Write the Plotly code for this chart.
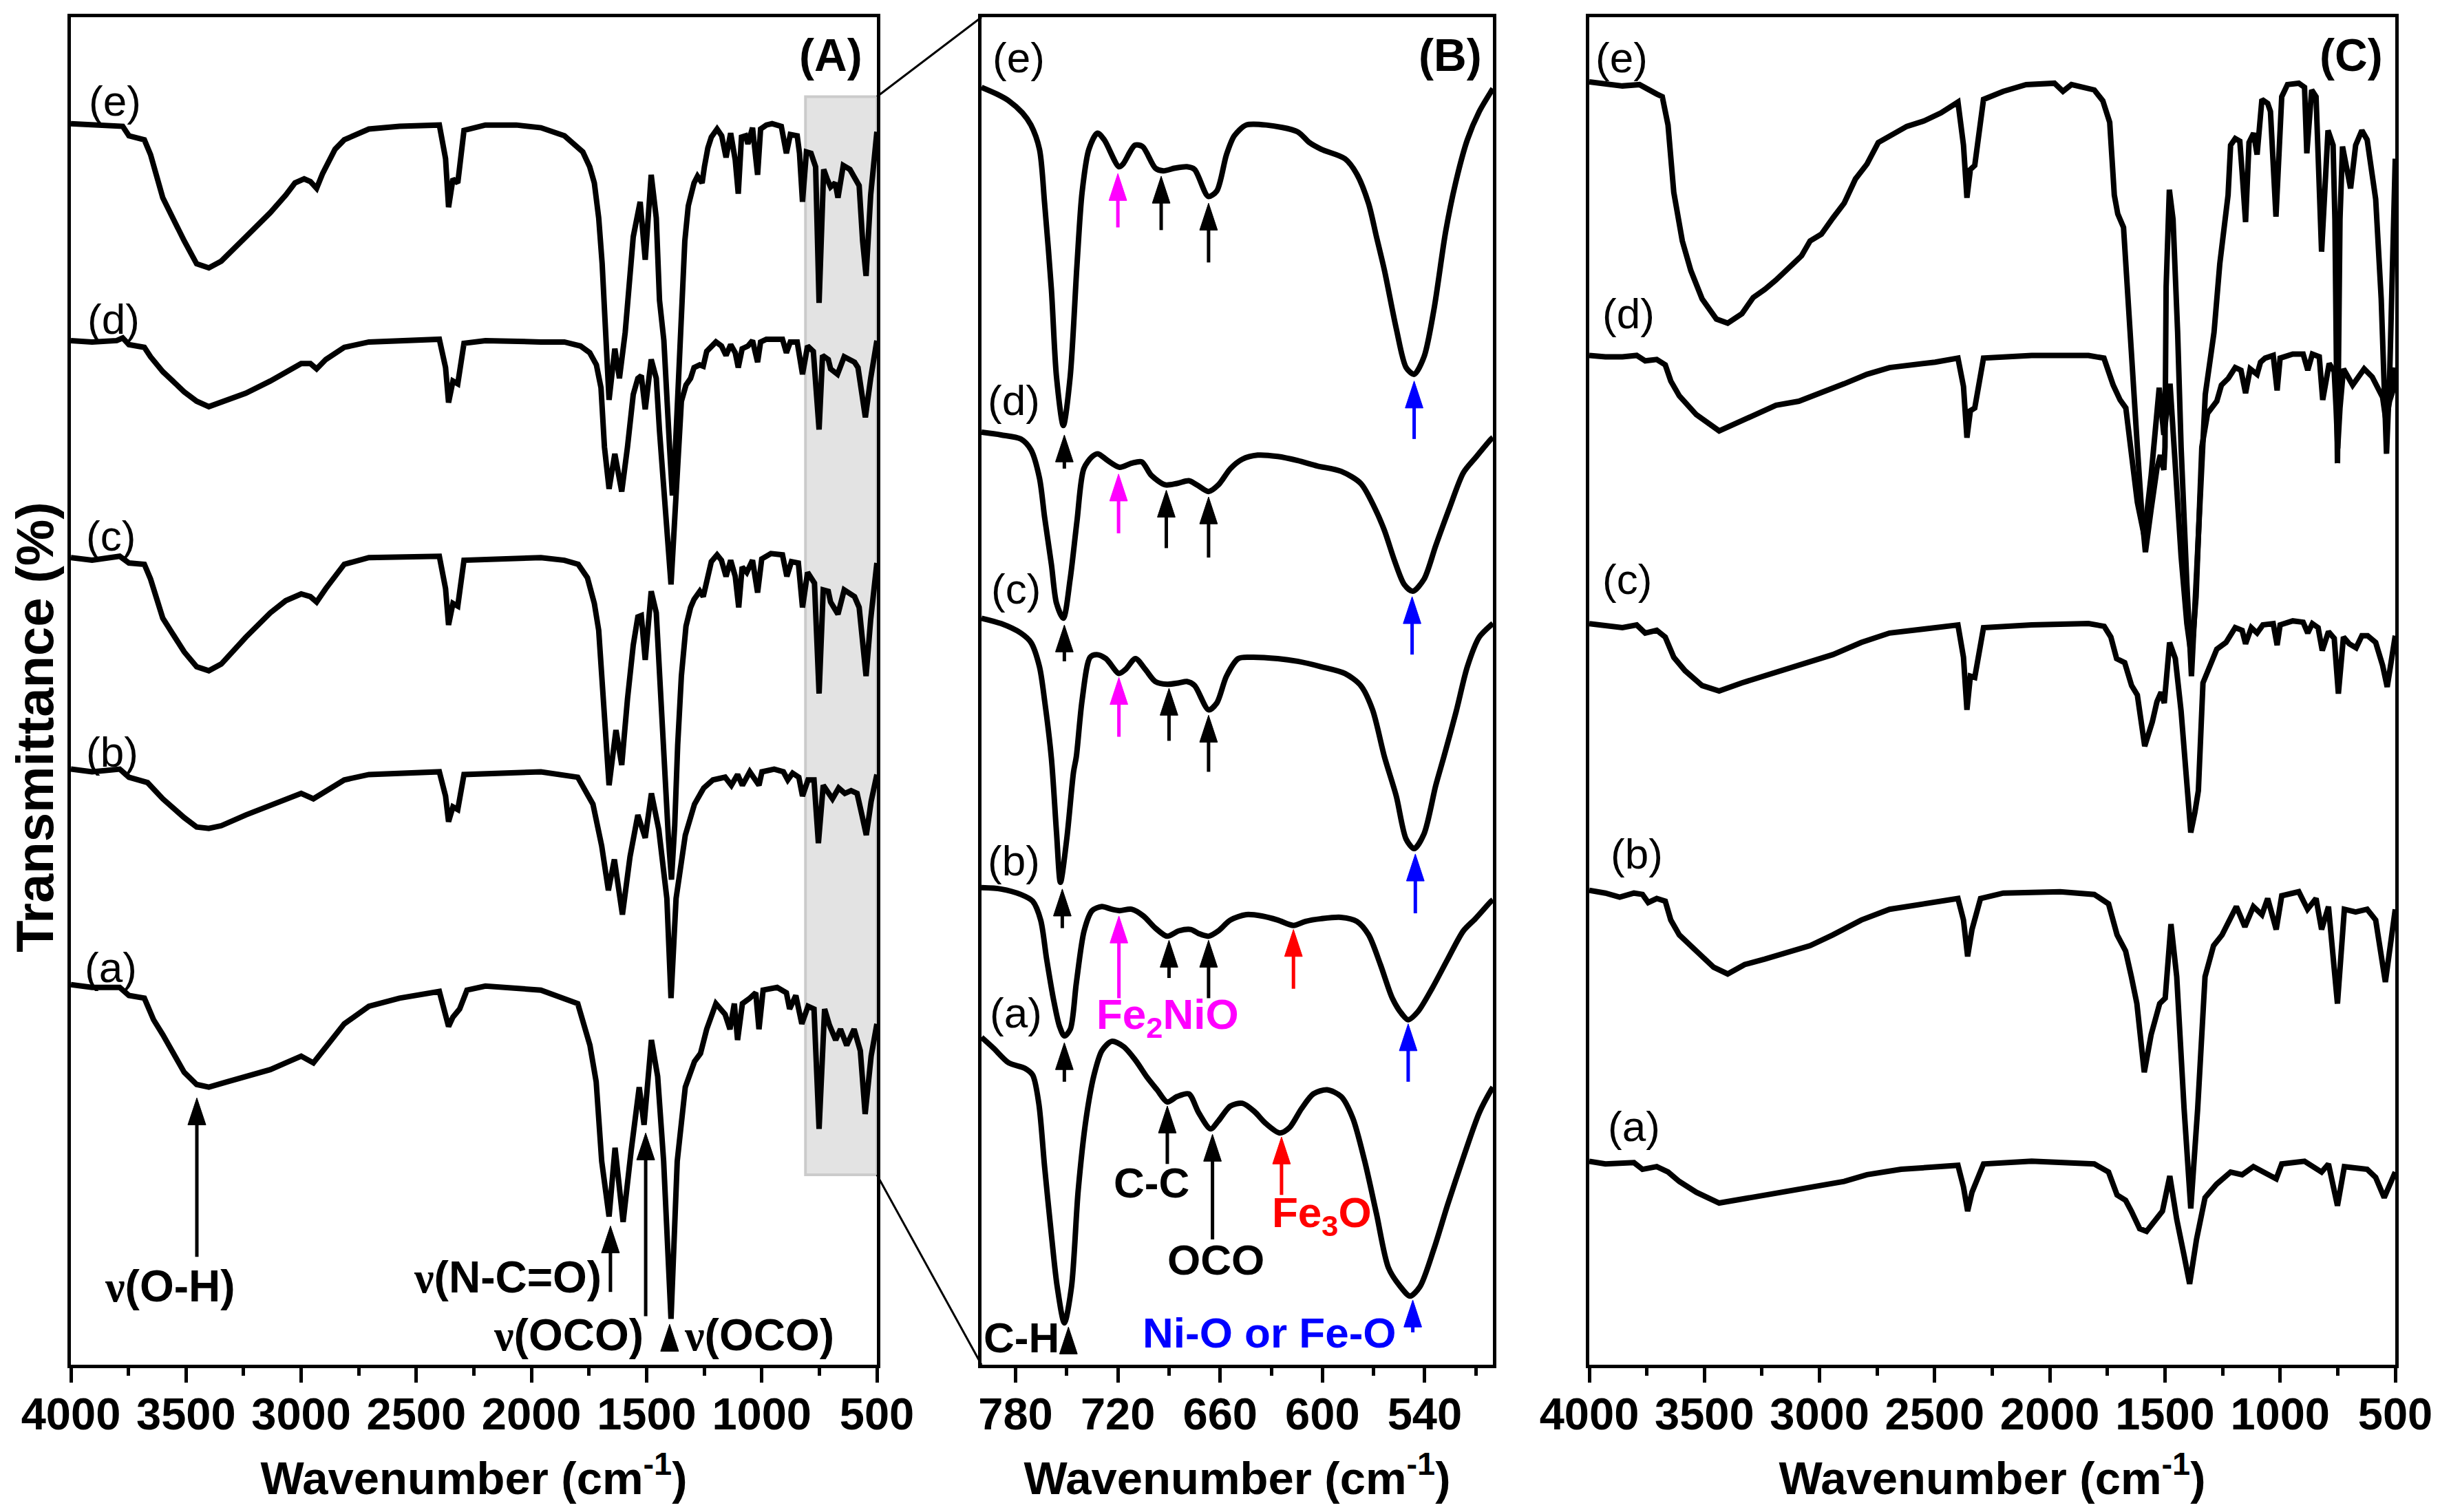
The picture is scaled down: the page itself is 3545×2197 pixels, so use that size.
import plotly.graph_objects as go

# ---- spectra, panel (A): full range, pairs of (wavenumber, transmittance a.u.) ----
A_e = [(4000, 92.1), (3775, 91.9), (3748, 91.2), (3681, 90.9), (3654, 89.8), (3601, 86.6), (3508, 83.4), (3454, 81.7),
       (3401, 81.4), (3347, 81.9), (3240, 83.7), (3134, 85.5), (3067, 86.8), (3027, 87.7), (2987, 88.0), (2960, 87.8),
       (2933, 87.3), (2907, 88.4), (2853, 90.2), (2813, 90.9), (2706, 91.7), (2573, 91.9), (2400, 92.0), (2373, 89.5),
       (2360, 85.9), (2341, 88.0), (2320, 87.7), (2293, 91.6), (2200, 92.0), (2066, 92.0), (1959, 91.8), (1857, 91.2),
       (1777, 90.0), (1747, 88.9), (1727, 87.7), (1708, 85.1), (1693, 81.7), (1678, 76.6), (1663, 71.6), (1638, 75.4),
       (1618, 73.2), (1593, 76.6), (1558, 83.7), (1528, 86.3), (1506, 82.0), (1480, 88.3), (1458, 85.1), (1444, 79.0),
       (1425, 76.0), (1400, 68.0), (1388, 64.5), (1375, 68.0), (1365, 72.0), (1349, 78.3), (1334, 83.4), (1319, 86.0),
       (1294, 87.7), (1279, 88.2), (1259, 87.7), (1249, 88.9), (1234, 90.3), (1219, 91.1), (1194, 91.7), (1174, 91.2),
       (1155, 89.6), (1135, 91.4), (1115, 89.4), (1102, 86.9), (1088, 91.1), (1070, 91.2), (1060, 90.6), (1040, 91.8),
       (1018, 88.3), (1005, 91.7), (980, 92.0), (955, 92.1), (915, 91.9), (893, 89.9), (876, 91.3), (846, 91.2),
       (836, 89.9), (823, 86.3), (806, 90.0), (786, 89.9), (766, 88.9), (751, 78.8), (731, 88.7), (716, 88.0),
       (701, 87.4), (681, 87.7), (669, 86.6), (646, 89.0), (617, 88.7), (597, 88.1), (577, 87.5), (562, 83.4),
       (547, 80.8), (527, 86.8), (507, 90.2), (500, 91.5)]
A_d = [(4000, 76.0), (3908, 75.9), (3801, 76.0), (3775, 76.2), (3748, 75.7), (3681, 75.5), (3654, 74.8), (3601, 73.7),
       (3508, 72.2), (3454, 71.5), (3401, 71.1), (3347, 71.4), (3240, 72.1), (3134, 73.0), (3067, 73.7), (3000, 74.3),
       (2960, 74.3), (2933, 73.9), (2893, 74.6), (2813, 75.5), (2706, 75.9), (2573, 76.0), (2400, 76.1), (2373, 74.0),
       (2360, 71.4), (2341, 73.0), (2320, 72.8), (2293, 75.8), (2200, 76.0), (1959, 75.9), (1857, 75.9), (1787, 75.6),
       (1747, 75.1), (1718, 74.2), (1698, 72.5), (1683, 68.1), (1663, 65.0), (1638, 67.6), (1608, 64.8), (1583, 68.1),
       (1558, 72.0), (1538, 73.2), (1523, 73.4), (1506, 70.9), (1480, 74.6), (1458, 73.2), (1444, 69.3), (1394, 57.9),
       (1359, 68.1), (1349, 71.5), (1329, 72.7), (1309, 73.2), (1294, 74.0), (1269, 74.2), (1254, 74.1), (1239, 75.2),
       (1199, 75.9), (1175, 75.6), (1155, 74.9), (1135, 75.7), (1115, 75.1), (1102, 74.0), (1085, 75.4), (1060, 75.6),
       (1040, 76.0), (1018, 74.4), (1005, 75.9), (980, 76.1), (910, 76.1), (893, 75.1), (876, 75.9), (846, 75.9),
       (823, 73.5), (801, 75.6), (776, 75.2), (751, 69.4), (736, 74.9), (711, 74.6), (701, 73.9), (671, 73.5),
       (642, 74.8), (597, 74.4), (582, 74.0), (567, 72.2), (550, 70.3), (527, 73.2), (507, 75.4), (500, 76.0)]
A_c = [(4000, 59.9), (3908, 59.7), (3788, 60.0), (3748, 59.5), (3681, 59.4), (3654, 58.3), (3601, 55.4), (3508, 52.9),
       (3454, 51.8), (3401, 51.5), (3347, 52.0), (3240, 54.0), (3134, 55.8), (3067, 56.7), (3000, 57.2), (2960, 57.0),
       (2933, 56.6), (2893, 57.6), (2813, 59.4), (2706, 59.9), (2400, 60.0), (2373, 57.6), (2360, 54.9), (2341, 56.5),
       (2320, 56.3), (2293, 59.7), (1959, 59.9), (1857, 59.7), (1797, 59.4), (1757, 58.4), (1727, 56.5), (1708, 54.5),
       (1688, 49.4), (1663, 43.0), (1633, 47.1), (1608, 44.5), (1583, 49.4), (1558, 53.4), (1538, 55.5), (1523, 55.6),
       (1506, 52.3), (1480, 57.4), (1458, 55.8), (1439, 49.4), (1420, 43.5), (1405, 39.0), (1392, 36.0), (1378, 40.0),
       (1365, 46.0), (1349, 51.1), (1329, 54.8), (1309, 56.2), (1294, 56.8), (1269, 57.4), (1254, 57.0), (1239, 58.2),
       (1219, 59.6), (1194, 60.1), (1175, 59.7), (1155, 58.5), (1135, 59.7), (1115, 58.5), (1100, 56.2), (1085, 59.2),
       (1065, 58.8), (1040, 59.7), (1018, 57.3), (1000, 59.8), (960, 60.2), (910, 60.1), (891, 58.5), (871, 59.6),
       (841, 59.5), (823, 56.2), (801, 58.8), (771, 58.0), (751, 49.8), (733, 57.5), (711, 57.4), (701, 56.6),
       (669, 55.7), (642, 57.5), (597, 57.0), (577, 56.2), (562, 53.6), (547, 51.1), (527, 55.3), (507, 58.7), (500, 59.5)]
A_b = [(4000, 44.2), (3908, 44.0), (3788, 44.2), (3748, 43.6), (3667, 43.2), (3601, 42.0), (3508, 40.6), (3454, 39.9),
       (3401, 39.8), (3347, 40.0), (3240, 40.8), (3134, 41.5), (3067, 41.9), (3000, 42.4), (2947, 42.0), (2893, 42.6),
       (2813, 43.4), (2706, 43.8), (2400, 44.0), (2373, 42.2), (2360, 40.3), (2341, 41.4), (2320, 41.2), (2293, 43.8),
       (1959, 44.0), (1799, 43.6), (1733, 41.6), (1695, 38.5), (1666, 35.2), (1640, 37.5), (1605, 33.4), (1572, 37.7),
       (1538, 40.8), (1506, 39.1), (1479, 42.4), (1447, 39.7), (1412, 34.6), (1394, 27.2), (1372, 34.6), (1332, 39.3),
       (1292, 41.6), (1252, 42.8), (1212, 43.4), (1159, 43.6), (1132, 43.0), (1105, 43.8), (1084, 43.0), (1052, 44.0),
       (1012, 43.0), (999, 44.0), (946, 44.2), (906, 44.0), (887, 43.4), (866, 43.9), (839, 43.6), (823, 42.2),
       (799, 43.4), (773, 43.4), (754, 38.7), (733, 43.0), (693, 42.0), (666, 42.8), (639, 42.4), (612, 42.6),
       (586, 42.4), (565, 40.8), (546, 39.3), (525, 41.8), (500, 43.8)]
A_a = [(4000, 28.2), (3908, 28.0), (3788, 28.0), (3748, 27.4), (3681, 27.2), (3641, 25.6), (3601, 24.5), (3508, 21.7),
       (3454, 20.8), (3401, 20.6), (3321, 21.0), (3240, 21.4), (3134, 21.9), (3067, 22.4), (3000, 22.9), (2947, 22.4),
       (2907, 23.3), (2853, 24.5), (2813, 25.3), (2706, 26.6), (2573, 27.2), (2400, 27.7), (2373, 26.0), (2360, 25.1),
       (2341, 25.8), (2312, 26.4), (2280, 27.8), (2200, 28.1), (1959, 27.8), (1799, 26.8), (1746, 23.7), (1719, 21.0),
       (1695, 15.1), (1663, 11.0), (1637, 16.1), (1602, 10.6), (1567, 15.9), (1532, 20.6), (1511, 17.8), (1479, 24.1),
       (1452, 21.4), (1426, 15.1), (1394, 3.4), (1367, 15.1), (1332, 20.6), (1292, 22.5), (1266, 23.1), (1239, 24.9),
       (1199, 26.8), (1159, 26.0), (1138, 24.9), (1119, 26.8), (1105, 24.1), (1084, 26.8), (1052, 27.2), (1026, 27.6),
       (1012, 24.9), (994, 27.8), (933, 28.0), (893, 27.6), (879, 26.4), (852, 27.4), (826, 25.3), (799, 26.6),
       (773, 26.4), (751, 17.5), (727, 26.4), (706, 25.2), (679, 24.1), (658, 24.9), (631, 23.7), (599, 24.9),
       (572, 23.3), (551, 18.6), (525, 22.9), (500, 25.3)]

# ---- panel (B): zoom 800-500 ----
B_e = [(800, 94.8), (791, 94.3), (784, 93.8), (776, 92.9), (771, 92.0), (766, 90.2), (763, 86.2), (759, 79.8),
       (756, 73.3), (752, 69.7), (748, 73.3), (744, 81.6), (741, 87.0), (737, 90.2), (732, 91.4), (728, 90.9),
       (719.4, 88.9), (717, 89.1), (710, 90.5), (705.5, 90.4), (698, 88.8), (693.4, 88.6), (686.5, 88.8), (679.5, 88.9),
       (675, 88.7), (667, 86.7), (662, 87.1), (656.3, 89.8), (651.7, 91.2), (644.7, 92.0), (633, 92.0), (614.6, 91.5),
       (607.7, 90.7), (600.7, 90.2), (586.8, 89.5), (580, 88.4), (573, 86.2), (568.3, 83.7), (563.6, 81.2),
       (556.7, 76.9), (550.9, 74.0), (546.2, 73.5), (540.4, 74.8), (534.6, 78.3), (527.7, 84.1), (521.9, 87.7),
       (515, 90.9), (508, 93.0), (501, 94.5), (500, 94.7)]
B_d = [(800, 69.2), (788.5, 69.0), (777, 68.7), (771, 67.9), (766, 65.8), (763, 62.9), (759, 59.4), (756, 56.5),
       (752, 55.4), (748, 58.3), (744, 62.6), (740, 66.5), (735, 67.4), (731.7, 67.6), (726, 67.1), (719, 66.6),
       (712, 66.9), (706, 67.0), (700.4, 66.0), (692.3, 65.3), (685.3, 65.4), (678.4, 65.6), (673.7, 65.3),
       (666.8, 64.8), (661, 65.3), (654, 66.5), (647, 67.2), (638, 67.5), (626.2, 67.4), (614.6, 67.1), (603, 66.7),
       (589, 66.3), (577.5, 65.4), (569.4, 63.6), (563.6, 61.9), (557.8, 59.7), (552, 57.9), (547, 57.4),
       (540.4, 58.3), (533.5, 60.8), (525.4, 63.6), (517.3, 66.2), (510.3, 67.3), (501, 68.7), (500, 68.8)]
B_c = [(800, 55.4), (788.5, 55.0), (777, 54.3), (771, 53.6), (766, 51.8), (763, 49.3), (759, 45.0), (756, 39.5),
       (753.7, 35.8), (750, 39.0), (746, 44.0), (744.4, 45.1), (741, 49.3), (736.3, 52.5), (732.4, 52.7), (727, 52.4),
       (719.4, 51.3), (715.5, 51.6), (709.7, 52.4), (703.9, 51.6), (698, 50.7), (691, 50.5), (684.2, 50.6),
       (679.5, 50.7), (675, 50.4), (666.8, 48.6), (662, 49.1), (656.3, 51.1), (649.4, 52.4), (642.4, 52.5),
       (626.2, 52.4), (614.6, 52.2), (600.7, 51.8), (586.8, 51.3), (577.5, 50.4), (570.6, 48.6), (563.6, 45.1),
       (556.7, 42.2), (550.9, 39.0), (546.2, 38.3), (540.4, 39.4), (533.5, 43.0), (528.8, 45.1), (521.5, 48.5),
       (515, 51.8), (508, 54.0), (501, 54.9), (500, 55.0)]
B_b = [(800, 35.4), (788.5, 35.3), (777, 34.9), (770, 34.4), (765.3, 33.0), (761.8, 30.1), (757.9, 27.2),
       (754.2, 25.1), (751.4, 24.4), (747.9, 24.9), (744.4, 28.3), (739.8, 32.2), (735.1, 33.7), (729.4, 34.0),
       (723.6, 33.8), (719, 33.7), (712, 33.8), (705, 33.3), (698, 32.4), (691.1, 31.8), (684.2, 32.2), (677.2, 32.3),
       (672.6, 32.0), (666.8, 31.8), (661, 32.2), (654, 33.0), (644.7, 33.4), (635.5, 33.3), (626.2, 33.0),
       (617, 32.6), (610, 32.9), (600.7, 33.1), (589.1, 33.2), (579.8, 32.9), (572.9, 31.9), (566, 29.7),
       (559, 27.2), (553.2, 26.0), (549.7, 25.6), (544, 26.2), (535.8, 27.9), (526.5, 30.1), (517.3, 32.2),
       (510.3, 33.1), (501, 34.4), (500, 34.5)]
B_a = [(800, 24.3), (793, 23.5), (784, 22.4), (774.6, 22.0), (770, 21.5), (766.4, 19.4), (763, 14.7), (758.8, 9.4),
       (755.6, 5.8), (751.4, 3.1), (747.2, 5.8), (743.3, 12.9), (738.6, 18.3), (734, 21.5), (729.4, 23.3),
       (723.6, 24.0), (716.6, 23.6), (709.7, 22.6), (702.7, 21.3), (697, 20.4), (691.1, 19.5), (685.3, 19.9),
       (678.4, 20.1), (672.6, 18.7), (665.6, 17.5), (661, 18.1), (654, 19.2), (647, 19.4), (640, 18.8),
       (633.2, 17.9), (625, 17.2), (619.3, 17.6), (612.3, 19.0), (605.3, 20.1), (597.2, 20.4), (589, 19.9),
       (582.2, 18.3), (575.2, 15.1), (568.3, 11.2), (561.3, 7.2), (554.3, 5.8), (548.6, 5.1), (542.8, 5.8),
       (534.6, 8.6), (526.5, 11.9), (517.3, 15.4), (508, 18.7), (501, 20.4), (500, 20.6)]

# ---- panel (C) ----
C_e = [(4000, 95.2), (3856, 94.9), (3782, 95.0), (3744, 94.6), (3707, 94.3), (3683, 94.1), (3658, 92.0), (3633, 87.0),
       (3596, 83.4), (3559, 81.2), (3510, 79.1), (3448, 77.6), (3399, 77.3), (3337, 78.0), (3288, 79.2), (3238, 79.8),
       (3189, 80.5), (3115, 81.7), (3078, 82.3), (3041, 83.4), (2992, 83.9), (2942, 85.1), (2893, 86.2), (2844, 88.0),
       (2794, 89.1), (2745, 90.7), (2696, 91.2), (2621, 91.9), (2547, 92.3), (2473, 92.9), (2399, 93.7), (2375, 90.5),
       (2360, 86.6), (2345, 88.7), (2326, 89.0), (2288, 93.9), (2202, 94.5), (2103, 95.0), (1980, 95.1), (1943, 94.5),
       (1906, 95.0), (1807, 94.6), (1770, 93.8), (1740, 92.2), (1720, 86.8), (1705, 85.4), (1680, 84.4), (1665, 80.0),
       (1645, 75.7), (1620, 68.1), (1600, 63.0), (1585, 60.3), (1560, 63.5), (1535, 66.5), (1520, 67.5), (1505, 66.4),
       (1500, 68.1), (1495, 80.0), (1481, 87.2), (1465, 85.0), (1445, 76.6), (1430, 68.1), (1405, 58.0), (1385, 51.1),
       (1365, 58.0), (1340, 68.1), (1325, 72.0), (1287, 76.6), (1262, 81.7), (1226, 86.8), (1215, 90.5), (1195, 91.0),
       (1175, 90.8), (1165, 88.5), (1150, 84.8), (1135, 90.7), (1115, 91.4), (1100, 89.8), (1085, 92.5), (1079, 93.9),
       (1054, 93.6), (1042, 93.0), (1018, 85.2), (993, 94.1), (968, 95.0), (919, 95.1), (894, 94.8), (884, 89.9),
       (863, 94.6), (844, 94.1), (820, 82.6), (792, 91.6), (770, 90.5), (762, 85.0), (751, 66.9), (740, 85.0),
       (729, 90.4), (712, 89.0), (694, 87.3), (672, 90.5), (645, 91.6), (622, 90.9), (585, 86.5), (561, 79.1),
       (550, 74.0), (538, 67.6), (525, 73.0), (511, 82.6), (500, 89.5)]
C_d = [(4000, 74.9), (3930, 74.8), (3856, 74.8), (3794, 74.9), (3757, 74.5), (3707, 74.6), (3670, 74.2), (3646, 73.0),
       (3609, 71.9), (3535, 70.5), (3436, 69.3), (3337, 70.1), (3189, 71.2), (3090, 71.5), (2992, 72.1), (2893, 72.8),
       (2794, 73.5), (2696, 74.0), (2498, 74.4), (2399, 74.7), (2375, 72.6), (2360, 68.8), (2345, 70.8), (2326, 71.0),
       (2288, 74.7), (2079, 74.9), (1832, 74.9), (1765, 74.7), (1725, 72.7), (1695, 71.6), (1670, 71.0), (1655, 68.9),
       (1620, 64.0), (1590, 61.5), (1560, 66.0), (1525, 72.5), (1510, 70.0), (1505, 69.0), (1490, 71.0), (1478, 72.8),
       (1460, 68.0), (1430, 60.0), (1405, 55.0), (1385, 52.5), (1365, 57.0), (1340, 68.1), (1315, 70.6), (1275, 71.5),
       (1255, 72.7), (1225, 73.2), (1195, 74.0), (1170, 73.8), (1150, 72.1), (1130, 73.9), (1100, 73.5), (1085, 74.4),
       (1065, 74.7), (1030, 74.9), (1013, 72.3), (1000, 74.7), (945, 75.0), (900, 75.0), (880, 73.8), (860, 75.0),
       (830, 74.8), (815, 71.6), (787, 74.3), (765, 73.7), (757, 71.0), (750, 68.0), (740, 71.0), (725, 73.9),
       (685, 72.7), (635, 73.9), (600, 73.3), (575, 72.5), (555, 71.8), (540, 70.0), (525, 71.5), (510, 72.3),
       (500, 74.0)]
C_c = [(4000, 55.0), (3930, 54.9), (3856, 54.7), (3794, 54.9), (3757, 54.3), (3707, 54.5), (3670, 54.0), (3633, 52.5),
       (3584, 51.5), (3510, 50.4), (3436, 50.0), (3337, 50.6), (3238, 51.1), (3140, 51.6), (3041, 52.2), (2942, 52.7),
       (2819, 53.6), (2696, 54.3), (2547, 54.6), (2399, 54.9), (2375, 52.5), (2360, 48.6), (2345, 51.1), (2326, 51.0),
       (2288, 54.7), (2079, 54.9), (1832, 55.0), (1764, 54.8), (1735, 54.0), (1710, 52.4), (1675, 52.1), (1645, 50.4),
       (1620, 49.7), (1588, 45.9), (1555, 47.7), (1535, 49.2), (1517, 49.9), (1503, 49.1), (1480, 53.6), (1455, 52.4),
       (1430, 48.5), (1405, 42.6), (1388, 39.5), (1370, 41.0), (1355, 42.6), (1335, 50.6), (1305, 51.8), (1275, 53.1),
       (1235, 53.6), (1195, 54.7), (1165, 54.5), (1150, 53.5), (1125, 54.7), (1100, 54.3), (1075, 54.9), (1030, 55.0),
       (1013, 53.4), (1000, 54.9), (945, 55.2), (900, 55.1), (880, 54.3), (860, 55.0), (835, 54.7), (817, 53.0),
       (790, 54.4), (765, 53.9), (747, 49.8), (725, 54.0), (700, 53.5), (670, 53.2), (645, 54.1), (620, 54.1),
       (585, 53.6), (555, 51.9), (535, 50.3), (515, 52.4), (500, 54.1)]
C_b = [(4000, 35.2), (3930, 35.0), (3868, 34.7), (3806, 35.0), (3769, 34.9), (3744, 34.3), (3707, 34.6), (3670, 34.4),
       (3646, 33.0), (3609, 31.9), (3535, 30.7), (3460, 29.5), (3399, 29.0), (3325, 29.7), (3238, 30.1), (3115, 30.7),
       (3041, 31.1), (2942, 31.9), (2819, 33.0), (2696, 33.8), (2547, 34.2), (2399, 34.6), (2375, 33.0), (2357, 30.3),
       (2338, 32.3), (2301, 34.6), (2202, 35.0), (1955, 35.1), (1807, 34.9), (1745, 34.2), (1708, 31.9), (1671, 30.7),
       (1646, 28.8), (1622, 26.8), (1590, 21.7), (1560, 24.5), (1523, 26.8), (1499, 27.2), (1474, 32.7), (1449, 28.8),
       (1417, 19.0), (1388, 11.6), (1358, 19.0), (1326, 28.8), (1289, 31.1), (1252, 31.9), (1190, 34.0), (1153, 32.5),
       (1116, 34.0), (1079, 33.4), (1054, 34.6), (1017, 32.3), (993, 34.8), (919, 35.1), (881, 33.8), (844, 34.6),
       (820, 32.3), (790, 34.0), (751, 26.8), (721, 33.8), (672, 33.6), (622, 33.8), (585, 33.0), (543, 28.4),
       (500, 33.8)]
C_a = [(4000, 15.1), (3930, 14.9), (3806, 15.0), (3769, 14.5), (3707, 14.7), (3658, 14.3), (3609, 13.6), (3535, 12.8),
       (3436, 12.0), (3337, 12.3), (3189, 12.7), (3041, 13.2), (2893, 13.6), (2794, 14.1), (2646, 14.5), (2399, 14.8),
       (2375, 13.2), (2357, 11.4), (2338, 12.8), (2288, 14.9), (2079, 15.1), (1807, 14.9), (1745, 14.3), (1708, 12.6),
       (1671, 12.2), (1646, 11.4), (1610, 10.1), (1580, 9.9), (1535, 10.8), (1511, 11.4), (1479, 14.0), (1449, 10.8),
       (1417, 8.1), (1393, 6.0), (1363, 9.3), (1326, 12.4), (1276, 13.4), (1215, 14.3), (1165, 14.1), (1116, 14.7),
       (1017, 13.8), (993, 14.9), (894, 15.1), (820, 14.3), (790, 14.9), (751, 11.8), (721, 14.7), (622, 14.5),
       (585, 13.9), (548, 12.4), (500, 14.3)]

# curve labels: (text, wavenumber, level)
A_labels = [("(e)", 3809, 93.8), ("(d)", 3815, 77.6), ("(c)", 3827, 61.5), ("(b)", 3821, 45.5), ("(a)", 3827, 29.5)]
B_labels = [("(e)", 778, 97.0), ("(d)", 781, 71.6), ("(c)", 780, 57.6), ("(b)", 781, 37.4), ("(a)", 780, 26.1)]
C_labels = [("(e)", 3860, 97.0), ("(d)", 3830, 78.0), ("(c)", 3836, 58.3), ("(b)", 3794, 37.9), ("(a)", 3806, 17.7)]

# band arrows: (wavenumber, tip level, tail level, colour)
A_arrows = [(3453, 19.8, 8.0, "black"), (1657, 10.3, 5.4, "black"), (1504, 17.2, 3.6, "black"),
            (1400, 3.0, 1.0, "black")]
B_arrows = [(751.4, 69.0, 66.5, "black"), (720.0, 88.4, 84.4, "magenta"), (694.6, 88.2, 84.2, "black"),
            (666.8, 86.2, 81.8, "black"), (546.2, 73.0, 68.7, "blue"),
            (751.4, 54.9, 52.2, "black"), (719.6, 66.1, 61.7, "magenta"), (691.6, 64.9, 60.6, "black"),
            (666.8, 64.4, 59.9, "black"), (547.4, 57.0, 52.7, "blue"),
            (752.6, 35.3, 32.4, "black"), (719.4, 51.0, 46.6, "magenta"), (690.0, 50.2, 46.3, "black"),
            (666.8, 48.2, 44.0, "black"), (545.5, 37.9, 33.5, "blue"),
            (751.4, 23.9, 21.0, "black"), (719.4, 33.3, 27.2, "magenta"), (690.0, 31.5, 28.7, "black"),
            (666.8, 31.5, 27.2, "black"), (617.0, 32.3, 27.9, "red"), (549.7, 25.3, 21.0, "blue"),
            (749.0, 2.8, 0.8, "black"), (691.0, 19.2, 14.9, "black"), (664.5, 17.1, 9.3, "black"),
            (624.0, 16.9, 12.6, "red"), (547.0, 4.8, 2.4, "blue")]

NU = "<span style=\"font-family:'Liberation Serif'\">ν</span>"
A_notes = [(NU + "(O-H)", 3570, 5.8), (NU + "(N-C=O)", 2105, 6.5), (NU + "(OCO)", 1839, 2.2), (NU + "(OCO)", 1011, 2.2)]
B_notes = [("C-H", 776.5, 2.0, "black"), ("C-C", 700.3, 13.5, "black"), ("OCO", 662.7, 7.8, "black"),
           ("Fe<sub>3</sub>O", 600.5, 11.1, "red"), ("Ni-O or Fe-O", 631.2, 2.4, "blue"),
           ("Fe<sub>2</sub>NiO", 690.6, 25.8, "magenta")]

box_wn = (810, 500)      # grey zoom window in (A)
box_level = (14.1, 94.1)

COLORS = {"black": "#000000", "magenta": "#ff00ff", "blue": "#0000ff", "red": "#ff0000"}
FONT = "Liberation Sans, Arial, sans-serif"

W, H = 3545, 2197
ML, MR, MT, MB = 103, 65, 25, 214
plot_w = W - ML - MR
dom_A = [0.0, (1274 - ML) / plot_w]
dom_B = [(1426 - ML) / plot_w, (2169 - ML) / plot_w]
dom_C = [(2309 - ML) / plot_w, 1.0]

fig = go.Figure()

panels = [
    ("x", "y", [A_e, A_d, A_c, A_b, A_a], "linear"),
    ("x2", "y2", [B_e, B_d, B_c, B_b, B_a], "spline"),
    ("x3", "y3", [C_e, C_d, C_c, C_b, C_a], "linear"),
]
for xa, ya, curves, shape in panels:
    for c in curves:
        wn, t = zip(*c)
        fig.add_trace(go.Scatter(x=wn, y=t, mode="lines", xaxis=xa, yaxis=ya, hoverinfo="skip",
                                 line=dict(color="black", width=8, shape=shape,
                                           smoothing=0.8 if shape == "spline" else None)))


def add_arrows(arrows, xa, ya, half_w, head_len=2.0):
    for col in COLORS:
        sx, sy, hx, hy = [], [], [], []
        for w, tip, tail, c in arrows:
            if c != col:
                continue
            base = tip - head_len
            if tail < base:
                sx += [w, w, None]
                sy += [tail, base + 0.3, None]
            hx += [w - half_w, w, w + half_w, w - half_w, None]
            hy += [base, tip, base, base, None]
        if not hx:
            continue
        if sx:
            fig.add_trace(go.Scatter(x=sx, y=sy, mode="lines", xaxis=xa, yaxis=ya, hoverinfo="skip",
                                     line=dict(color=COLORS[col], width=5)))
        fig.add_trace(go.Scatter(x=hx, y=hy, mode="lines", fill="toself", fillcolor=COLORS[col],
                                 xaxis=xa, yaxis=ya, hoverinfo="skip",
                                 line=dict(color=COLORS[col], width=1)))


add_arrows(A_arrows, "x", "y", 39)
add_arrows(B_arrows, "x2", "y2", 5.2)

ann = []
for labels, xr, yr in [(A_labels, "x", "y"), (B_labels, "x2", "y2"), (C_labels, "x3", "y3")]:
    for txt, w, t in labels:
        ann.append(dict(text=txt, x=w, y=t, xref=xr, yref=yr, showarrow=False,
                        font=dict(family=FONT, size=62, color="black")))
for txt, w, xr in [("(A)", 700, "x"), ("(B)", 525, "x2"), ("(C)", 691, "x3")]:
    ann.append(dict(text=txt, x=w, y=97.2, xref=xr, yref=xr.replace("x", "y"), showarrow=False,
                    font=dict(family=FONT, size=66, color="black", weight="bold")))
for txt, w, t in A_notes:
    ann.append(dict(text=txt, x=w, y=t, xref="x", yref="y", showarrow=False,
                    font=dict(family=FONT, size=64, color="black", weight="bold")))
for txt, w, t, c in B_notes:
    ann.append(dict(text=txt, x=w, y=t, xref="x2", yref="y2", showarrow=False,
                    font=dict(family=FONT, size=62, color=COLORS[c], weight="bold")))
ann.append(dict(text="Transmittance (%)", x=(51 - ML) / plot_w, y=0.473, xref="paper", yref="paper",
                xanchor="center", yanchor="middle", textangle=-90, showarrow=False,
                font=dict(family=FONT, size=76, color="black", weight="bold")))

shapes = [
    dict(type="rect", xref="x", yref="y", x0=box_wn[0], x1=box_wn[1], y0=box_level[0], y1=box_level[1],
         fillcolor="#e3e3e3", line=dict(color="#cbcbcb", width=4), layer="below"),
    dict(type="line", xref="paper", yref="paper", x0=dom_A[1], y0=box_level[1] / 100, x1=dom_B[0], y1=1.0,
         line=dict(color="black", width=3)),
    dict(type="line", xref="paper", yref="paper", x0=dom_A[1], y0=box_level[0] / 100, x1=dom_B[0], y1=0.0,
         line=dict(color="black", width=3)),
]

xcommon = dict(showline=True, linecolor="black", linewidth=5, mirror=True, ticks="outside", ticklen=21,
               tickwidth=5, tickcolor="black", showgrid=False, zeroline=False, ticklabelstandoff=-10,
               tickfont=dict(family=FONT, size=65, color="black", weight="bold"),
               title=dict(text="Wavenumber (cm<sup>-1</sup>)", standoff=36,
                          font=dict(family=FONT, size=67, color="black", weight="bold")))
ycommon = dict(showline=True, linecolor="black", linewidth=5, mirror=True, ticks="", showticklabels=False,
               showgrid=False, zeroline=False, range=[0, 100], fixedrange=True)

fig.update_layout(
    width=W, height=H, margin=dict(l=ML, r=MR, t=MT, b=MB),
    paper_bgcolor="white", plot_bgcolor="white", showlegend=False,
    xaxis=dict(xcommon, domain=dom_A, range=[4000, 500], dtick=500, tick0=500,
               minor=dict(ticks="outside", ticklen=11, tickwidth=5, tickcolor="black", dtick=250), anchor="y"),
    xaxis2=dict(xcommon, domain=dom_B, range=[800, 500], dtick=60, tick0=780,
                minor=dict(ticks="outside", ticklen=11, tickwidth=5, tickcolor="black", dtick=30), anchor="y2"),
    xaxis3=dict(xcommon, domain=dom_C, range=[4000, 500], dtick=500, tick0=500,
                minor=dict(ticks="outside", ticklen=11, tickwidth=5, tickcolor="black", dtick=250), anchor="y3"),
    yaxis=dict(ycommon, anchor="x"),
    yaxis2=dict(ycommon, anchor="x2"),
    yaxis3=dict(ycommon, anchor="x3"),
    annotations=ann, shapes=shapes,
)

fig.write_html("out.html", config={"displayModeBar": False},
               post_script="document.body.style.margin='0';")
